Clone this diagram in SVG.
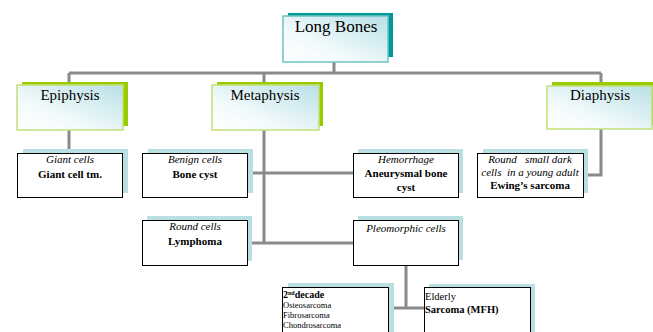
<svg xmlns="http://www.w3.org/2000/svg" width="653" height="332" viewBox="0 0 653 332" font-family="'Liberation Serif', 'DejaVu Serif', serif">
<defs>
<linearGradient id="g1" x1="0" y1="1" x2="1" y2="0">
<stop offset="0" stop-color="#ffffff"/>
<stop offset="0.35" stop-color="#f3fafb"/>
<stop offset="1" stop-color="#b8e0e6"/>
</linearGradient>
<style>
.c{stroke:#8a8a8a;stroke-width:3;fill:none}
.sh1{fill:#99cc00}
.sh0{fill:#009999}
.sh2{fill:#b9dfe3}
.b1{fill:url(#g1);stroke:#c3df77;stroke-width:1.5}
.b0{fill:url(#g1);stroke:#6cc4c4;stroke-width:1.5}
.b2{fill:#ffffff;stroke:#000;stroke-width:1}
text{font-family:'Liberation Serif','DejaVu Serif',serif;fill:#000}
.t1{font-size:15px;text-anchor:middle}
.t0{font-size:17px;text-anchor:middle}
.i{font-size:11px;font-style:italic;text-anchor:middle}
.bd{font-size:11px;font-weight:bold;text-anchor:middle}
.s{font-size:8.5px}
.sb{font-size:10px;font-weight:bold}
</style>
</defs>
<g id="connectors">
<path class="c" d="M334 62V73M69 73H601M69 73V85M264 73V85M601 73V86"/>
<path class="c" d="M69 130V153"/>
<path class="c" d="M264 130V243M247 173H353M247 243H353"/>
<path class="c" d="M601 129V175H583"/>
<path class="c" d="M406 265V308M388 308H424"/>
</g>
<g id="long-bones">
<rect class="sh0" x="288" y="13" width="105" height="44"/>
<rect class="b0" x="283" y="16" width="105" height="46"/>
<text class="t0" x="336" y="32">Long Bones</text>
</g>
<g id="epiphysis">
<rect class="sh1" x="22" y="82" width="106" height="44"/>
<rect class="b1" x="17" y="85" width="106" height="45"/>
<text class="t1" x="70" y="100">Epiphysis</text>
</g>
<g id="metaphysis">
<rect class="sh1" x="217" y="82" width="106" height="44"/>
<rect class="b1" x="212" y="85" width="107" height="45"/>
<text class="t1" x="265" y="100">Metaphysis</text>
</g>
<g id="diaphysis">
<rect class="sh1" x="552" y="82" width="106" height="43"/>
<rect class="b1" x="547" y="86" width="105" height="43"/>
<text class="t1" x="600" y="100">Diaphysis</text>
</g>
<g id="giant-cells">
<rect class="sh2" x="23" y="149" width="105" height="44"/>
<rect class="b2" x="17.5" y="153.5" width="105" height="44"/>
<text class="i" x="70" y="163">Giant cells</text>
<text class="bd" x="70" y="178">Giant cell tm.</text>
</g>
<g id="benign-cells">
<rect class="sh2" x="148" y="149" width="105" height="44"/>
<rect class="b2" x="142.5" y="153.5" width="105" height="44"/>
<text class="i" x="195" y="163">Benign cells</text>
<text class="bd" x="195" y="178">Bone cyst</text>
</g>
<g id="hemorrhage">
<rect class="sh2" x="358" y="149" width="105" height="44"/>
<rect class="b2" x="353.5" y="153.5" width="105" height="44"/>
<text class="i" x="406" y="163">Hemorrhage</text>
<text class="bd" x="406" y="177">Aneurysmal bone</text>
<text class="bd" x="406" y="191">cyst</text>
</g>
<g id="round-small-dark">
<rect class="sh2" x="483" y="149" width="105" height="44"/>
<rect class="b2" x="477.5" y="153.5" width="106" height="44"/>
<text class="i" x="530" y="163" xml:space="preserve">Round   small dark</text>
<text class="i" x="530" y="176" xml:space="preserve">cells  in a young adult</text>
<text class="bd" x="530" y="189">Ewing’s sarcoma</text>
</g>
<g id="round-cells">
<rect class="sh2" x="147" y="216" width="105" height="45"/>
<rect class="b2" x="142.5" y="220.5" width="105" height="45"/>
<text class="i" x="195" y="230">Round cells</text>
<text class="bd" x="195" y="245">Lymphoma</text>
</g>
<g id="pleomorphic-cells">
<rect class="sh2" x="358" y="216" width="105" height="44"/>
<rect class="b2" x="353.5" y="220.5" width="105" height="45"/>
<text class="i" x="406" y="232">Pleomorphic cells</text>
</g>
<g id="second-decade">
<rect class="sh2" x="288" y="283" width="106" height="50"/>
<rect class="b2" x="282.5" y="287.5" width="106" height="50"/>
<text class="sb" x="283" y="298">2<tspan font-size="6" dy="-3">nd</tspan><tspan dy="3">decade</tspan></text>
<text class="s" x="283" y="308">Osteosarcoma</text>
<text class="s" x="283" y="318">Fibrosarcoma</text>
<text class="s" x="283" y="328">Chondrosarcoma</text>
</g>
<g id="elderly">
<rect class="sh2" x="429" y="284" width="106" height="50"/>
<rect class="b2" x="424.5" y="287.5" width="106" height="50"/>
<text x="425" y="300" font-size="10.5">Elderly</text>
<text x="425" y="313" font-size="10.5" font-weight="bold">Sarcoma (MFH)</text>
</g>
</svg>
